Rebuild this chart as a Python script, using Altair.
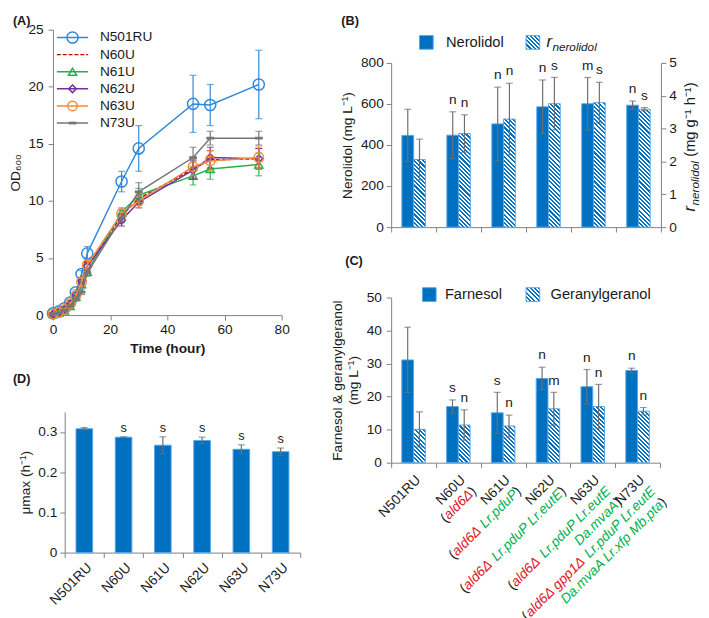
import math
import altair as alt
import pandas as pd

FONT = "Liberation Sans"
INK = "#1a1a1a"
AXC = "#808080"
BLUE = "#0070C0"
EDGE = "#5aa5e6"
ERRC = "#6f6f6f"
RED = "#e0151f"
GREEN = "#00b050"

# ---------------- data ----------------
strains = ["N501RU", "N60U", "N61U", "N62U", "N63U", "N73U"]

# (A) growth curves
time_h = [0, 2, 4, 6, 8, 10, 12, 24, 30, 49, 55, 72]
od_N501RU = [0.15, 0.3, 0.6, 1.1, 2.0, 3.6, 5.4, 11.7, 14.6, 18.5, 18.4, 20.2]
err_N501RU = [0.05, 0.1, 0.1, 0.15, 0.2, 0.3, 0.6, 0.9, 2.0, 2.5, 1.8, 3.0]
od_N60U = [0.1, 0.2, 0.45, 0.9, 1.7, 2.8, 4.2, 8.7, 10.2, 12.8, 13.6, 13.7]
err_N60U = [0.05, 0.05, 0.1, 0.1, 0.2, 0.3, 0.4, 0.5, 0.6, 0.8, 0.8, 0.9]
od_N61U = [0.1, 0.2, 0.4, 0.8, 1.6, 2.7, 3.8, 9.0, 10.5, 12.2, 12.8, 13.2]
err_N61U = [0.05, 0.05, 0.1, 0.1, 0.2, 0.3, 0.3, 0.4, 0.6, 0.8, 0.9, 1.0]
od_N62U = [0.1, 0.25, 0.5, 1.0, 1.8, 3.0, 4.3, 8.3, 9.9, 12.7, 13.8, 13.7]
err_N62U = [0.05, 0.05, 0.1, 0.1, 0.2, 0.3, 0.4, 0.5, 0.5, 0.8, 0.9, 0.9]
od_N63U = [0.1, 0.25, 0.5, 1.0, 1.7, 2.9, 4.4, 8.9, 10.0, 13.0, 13.5, 13.8]
err_N63U = [0.05, 0.05, 0.1, 0.1, 0.2, 0.3, 0.4, 0.4, 0.6, 0.8, 0.9, 1.0]
od_N73U = [0.1, 0.2, 0.4, 0.8, 1.4, 2.0, 3.7, 8.5, 10.8, 13.8, 15.5, 15.5]
err_N73U = [0.05, 0.05, 0.1, 0.1, 0.2, 0.2, 0.3, 0.4, 0.8, 0.9, 0.6, 0.6]
od_values = {"N501RU": od_N501RU, "N60U": od_N60U, "N61U": od_N61U,
             "N62U": od_N62U, "N63U": od_N63U, "N73U": od_N73U}
od_errors = {"N501RU": err_N501RU, "N60U": err_N60U, "N61U": err_N61U,
             "N62U": err_N62U, "N63U": err_N63U, "N73U": err_N73U}

# (B) nerolidol titre and specific rate
nerolidol = [447, 448, 503, 586, 601, 594]
nerolidol_err = [127, 114, 179, 131, 128, 20]
nerolidol_sig = ["", "n", "n", "n", "m", "n"]
r_nerolidol = [2.06, 2.85, 3.29, 3.76, 3.79, 3.59]
r_nerolidol_err = [0.62, 0.57, 1.09, 0.80, 0.62, 0.05]
r_nerolidol_sig = ["", "n", "n", "s", "s", "s"]

# (C) farnesol and geranylgeranol
farnesol = [31.1, 17.0, 15.1, 25.5, 23.0, 27.9]
farnesol_err = [9.9, 2.0, 6.2, 3.4, 5.2, 0.7]
farnesol_sig = ["", "s", "s", "n", "n", "n"]
geranylgeranol = [10.1, 11.4, 11.1, 16.3, 17.0, 15.6]
geranylgeranol_err = [5.3, 4.6, 3.3, 5.0, 6.7, 1.1]
geranylgeranol_sig = ["", "n", "n", "m", "n", "n"]

# (D) maximum specific growth rate
umax = [0.308, 0.287, 0.267, 0.279, 0.257, 0.251]
umax_err = [0.003, 0.001, 0.021, 0.008, 0.011, 0.009]
umax_sig = ["", "s", "s", "s", "s", "s"]

# genotype tick labels of (C): lines of (text, colour key, italic)
genotype_lines = {
    "N501RU": [[("N501RU", "k", False)]],
    "N60U": [[("N60U", "k", False)],
             [("(", "k", False), ("ald6Δ", "r", True), (")", "k", False)]],
    "N61U": [[("N61U", "k", False)],
             [("(", "k", False), ("ald6Δ", "r", True), (" Lr.pduP", "g", True), (")", "k", False)]],
    "N62U": [[("N62U", "k", False)],
             [("(", "k", False), ("ald6Δ", "r", True), (" Lr.pduP Lr.eutE", "g", True), (")", "k", False)]],
    "N63U": [[("N63U", "k", False)],
             [("(", "k", False), ("ald6Δ", "r", True), (" Lr.pduP Lr.eutE", "g", True)],
             [("Da.mvaA", "g", True), (")", "k", False)]],
    "N73U": [[("N73U", "k", False)],
             [("(", "k", False), ("ald6Δ gpp1Δ", "r", True), (" Lr.pduP Lr.eutE", "g", True)],
             [("Da.mvaA Lr.xfp Mb.pta", "g", True), (")", "k", False)]],
}
SEG_COLORS = {"k": INK, "r": RED, "g": GREEN}

# ---------------- helpers ----------------
ONE = pd.DataFrame({"k": [0]})
ARIAL = {' ': 278, '(': 333, ')': 333, '.': 278, 'Δ': 668, 'a': 556, 'b': 556, 'd': 556,
         'e': 556, 'g': 556, 'l': 222, 'm': 833, 'p': 556, 'r': 333, 't': 278, 'u': 556,
         'v': 500, 'x': 500, 'f': 278, 'i': 222, 'n': 556, 'o': 556, 's': 500, 'A': 667,
         'D': 722, 'E': 667, 'L': 556, 'M': 833, 'N': 722, 'P': 667, 'R': 722, 'U': 722}


def text_width(s, size):
    return sum(ARIAL.get(ch, 556) for ch in s) * size / 1000.0


def txt(x, y, s, size=14, color=INK, **kw):
    return alt.Chart(ONE).mark_text(font=FONT, fontSize=size, color=color, **kw).encode(
        x=alt.value(x), y=alt.value(y), text=alt.value(s))


def hatch_fill(w, h, period=3.0, frac=0.5):
    L = (w + h) / math.sqrt(2)
    p = period / L
    s = (w + h) / (w * w + h * h)
    stops = []
    o = 0.0
    while o < 1:
        o1 = min(o + frac * p, 1.0)
        o2 = min(o + p, 1.0)
        stops += [{"offset": round(o, 5), "color": BLUE},
                  {"offset": round(o1, 5), "color": BLUE},
                  {"offset": round(o1, 5), "color": "#ffffff"},
                  {"offset": round(o2, 5), "color": "#ffffff"}]
        o += p
    return {"gradient": "linear", "x1": 0, "y1": 1,
            "x2": round(s * w, 5), "y2": round(1 - s * h, 5), "stops": stops}


def panel_title(t, dx, offset):
    return alt.TitleParams(t, anchor="start", frame="group", font=FONT, fontSize=13,
                           fontWeight="bold", color=INK, dx=dx, offset=offset)


# ---------------- (A) ----------------
A_W, A_H = 234, 292
rowsA = []
for s in strains:
    for t, v, e in zip(time_h, od_values[s], od_errors[s]):
        rowsA.append({"strain": s, "t": t, "od": v, "lo": max(v - e, 0), "hi": v + e})
dfA = pd.DataFrame(rowsA)

DASH_SHAPE = "M-1,-0.35L1,-0.35L1,0.35L-1,0.35Z"
series_style = [
    ("N501RU", "#2f88d8", "circle", 130, None),
    ("N60U", "#c00000", None, 0, [4, 2]),
    ("N61U", "#22b14c", "triangle-up", 70, None),
    ("N62U", "#7030a0", "diamond", 60, None),
    ("N63U", "#f58a3c", "circle", 95, None),
    ("N73U", "#767676", DASH_SHAPE, 64, None),
]
xA_scale = alt.Scale(domain=[0, 80], nice=False)
yA_scale = alt.Scale(domain=[0, 25], nice=False)
xA_axis = alt.X("t:Q", scale=xA_scale,
                axis=alt.Axis(values=[0, 20, 40, 60, 80], title="Time (hour)",
                              titleFontWeight="bold", labelFlush=False, titlePadding=5,
                              labelOverlap=False))
yA_axis = alt.Y("od:Q", scale=yA_scale,
                axis=alt.Axis(values=[0, 5, 10, 15, 20, 25], title="OD₆₀₀", titlePadding=6,
                              labelPadding=5, labelOverlap=False))
xA = alt.X("t:Q", scale=xA_scale)


def yA(f):
    return alt.Y(f"{f}:Q", scale=yA_scale)


layersA = [alt.Chart(dfA).mark_point(opacity=0).encode(x=xA_axis, y=yA_axis)]
for name, col, shape, size, dash in series_style:
    base = alt.Chart(dfA).transform_filter(alt.datum.strain == name)
    lkw = dict(color=col, strokeWidth=1.5)
    if dash:
        lkw["strokeDash"] = dash
    layersA.append(base.mark_line(**lkw).encode(x=xA, y=yA("od")))
    layersA.append(base.mark_rule(color=col, strokeWidth=1.2).encode(x=xA, y=yA("lo"), y2="hi:Q"))
    for f in ("lo", "hi"):
        layersA.append(base.mark_tick(orient="horizontal", color=col, size=7, thickness=1.2)
                       .encode(x=xA, y=yA(f)))
    if shape:
        layersA.append(base.mark_point(shape=shape, size=size, color=col,
                                       filled=(shape == DASH_SHAPE), strokeWidth=1.5, opacity=1)
                       .encode(x=xA, y=yA("od")))
# legend of (A)
for i, (name, col, shape, size, dash) in enumerate(series_style):
    yc = 8 + i * 17.5
    rkw = dict(color=col, strokeWidth=1.5)
    if dash:
        rkw["strokeDash"] = dash
    layersA.append(alt.Chart(ONE).mark_rule(**rkw).encode(
        x=alt.value(4), x2=alt.value(36), y=alt.value(yc)))
    if shape:
        layersA.append(alt.Chart(ONE).mark_point(shape=shape, size=size, color=col,
                                                 filled=(shape == DASH_SHAPE), strokeWidth=1.5,
                                                 opacity=1)
                       .encode(x=alt.value(20), y=alt.value(yc)))
    layersA.append(txt(48, yc, name, size=14, align="left", baseline="middle"))

chartA = alt.layer(*layersA).properties(width=A_W, height=A_H,
                                        title=panel_title("(A)", -41, -5))

# ---------------- (D) ----------------
D_W, D_H = 241, 144
D_SHIFT = 12   # plot area of (D) sits 12 px right of (A)'s
dfD = pd.DataFrame({"strain": strains, "umax": umax,
                    "lo": [v - e for v, e in zip(umax, umax_err)],
                    "hi": [v + e for v, e in zip(umax, umax_err)],
                    "sig": umax_sig})
xD_scale = alt.Scale(domain=strains, paddingInner=0, paddingOuter=0,
                     range=[D_SHIFT, D_SHIFT + D_W])
xD_axis = alt.X("strain:N", scale=xD_scale,
                axis=alt.Axis(title=None, labelAngle=315, tickBand="extent", labelOverlap=False))
xD = alt.X("strain:N", scale=xD_scale)
yD_scale = alt.Scale(domain=[0, 0.35], nice=False)
baseD = alt.Chart(dfD)
layersD = [
    baseD.mark_bar(width=17, color=BLUE, stroke=EDGE, strokeWidth=1).encode(
        x=xD_axis,
        y=alt.Y("umax:Q", scale=yD_scale,
                axis=alt.Axis(values=[0, 0.05, 0.1, 0.15, 0.2, 0.25, 0.3, 0.35],
                              format=".2~f", title="μmax (h⁻¹)", titlePadding=6,
                              offset=-D_SHIFT, labelOverlap=False))),
    baseD.mark_rule(color=ERRC, strokeWidth=1.2).encode(
        x=xD, y=alt.Y("lo:Q", scale=yD_scale), y2="hi:Q"),
]
for f in ("lo", "hi"):
    layersD.append(baseD.mark_tick(orient="horizontal", color=ERRC, size=7, thickness=1.2)
                   .encode(x=xD, y=alt.Y(f"{f}:Q", scale=yD_scale)))
layersD.append(baseD.mark_text(font=FONT, fontSize=13, color=INK, baseline="bottom", dy=-2)
               .encode(x=xD, y=alt.Y("hi:Q", scale=yD_scale), text="sig:N"))
chartD = alt.layer(*layersD).properties(width=D_W + D_SHIFT, height=D_H,
                                        title=panel_title("(D)", -41, 27))


# ---------------- shared bits for (B) and (C) ----------------
def err_layers(df, xenc, yscale, lo, hi, xoff):
    out = [alt.Chart(df).mark_rule(color=ERRC, strokeWidth=1.2, xOffset=xoff).encode(
        x=xenc, y=alt.Y(f"{lo}:Q", scale=yscale), y2=f"{hi}:Q")]
    for f in (lo, hi):
        out.append(alt.Chart(df).mark_tick(orient="horizontal", color=ERRC, size=7,
                                           thickness=1.2, xOffset=xoff)
                   .encode(x=xenc, y=alt.Y(f"{f}:Q", scale=yscale)))
    return out


def sig_layer(df, xenc, yscale, hi, field, xoff):
    return alt.Chart(df).mark_text(font=FONT, fontSize=14, color=INK, baseline="bottom",
                                   dy=-5, xOffset=xoff).encode(
        x=xenc, y=alt.Y(f"{hi}:Q", scale=yscale), text=f"{field}:N")


def hatched_bars(df, xenc, yscale, field, vmax, plot_h, axis=None):
    out = []
    for i, s in enumerate(strains):
        v = df[field][i]
        h = max(v / vmax * plot_h, 1)
        if i == 0 and axis is not None:
            yenc = alt.Y(f"{field}:Q", scale=yscale, axis=axis)
        else:
            yenc = alt.Y(f"{field}:Q", scale=yscale)
        out.append(alt.Chart(df).transform_filter(alt.datum.strain == s)
                   .mark_bar(width=12, xOffset=6, fill=hatch_fill(12, h), stroke=EDGE,
                             strokeWidth=1)
                   .encode(x=xenc, y=yenc))
    return out


def legend_icon(x, y, solid):
    m = alt.Chart(ONE)
    if solid:
        mk = m.mark_rect(fill=BLUE, stroke=EDGE, strokeWidth=1)
    else:
        mk = m.mark_rect(fill=hatch_fill(14, 14), stroke=EDGE, strokeWidth=1)
    return mk.encode(x=alt.value(x), x2=alt.value(x + 14), y=alt.value(y), y2=alt.value(y + 14))


# ---------------- (B) ----------------
B_W, B_H = 276, 168
B_TOP = 34    # plot area of (B) starts 34 px below the top of (A)'s
dfB = pd.DataFrame({
    "strain": strains,
    "v1": nerolidol,
    "lo1": [v - e for v, e in zip(nerolidol, nerolidol_err)],
    "hi1": [v + e for v, e in zip(nerolidol, nerolidol_err)],
    "s1": nerolidol_sig,
    "v2": r_nerolidol,
    "lo2": [v - e for v, e in zip(r_nerolidol, r_nerolidol_err)],
    "hi2": [v + e for v, e in zip(r_nerolidol, r_nerolidol_err)],
    "s2": r_nerolidol_sig,
})
xB_scale = alt.Scale(domain=strains, paddingInner=0, paddingOuter=0)
xB_axis = alt.X("strain:N", scale=xB_scale,
                axis=alt.Axis(title=None, labels=False, tickBand="extent"))
xB = alt.X("strain:N", scale=xB_scale)
yB1 = alt.Scale(domain=[0, 800], nice=False, range=[B_TOP + B_H, B_TOP])
yB2 = alt.Scale(domain=[0, 5], nice=False, range=[B_TOP + B_H, B_TOP])

g1 = [alt.Chart(dfB).mark_bar(width=12, xOffset=-6, color=BLUE, stroke=EDGE, strokeWidth=1)
      .encode(x=xB_axis,
              y=alt.Y("v1:Q", scale=yB1,
                      axis=alt.Axis(values=[0, 200, 400, 600, 800], title="Nerolidol (mg L⁻¹)",
                                    titlePadding=6, labelOverlap=False)))]
g1 += err_layers(dfB, xB, yB1, "lo1", "hi1", -6)
g1.append(sig_layer(dfB, xB, yB1, "hi1", "s1", -6))

g2 = hatched_bars(dfB, xB, yB2, "v2", 5, B_H,
                  axis=alt.Axis(orient="right", values=[0, 1, 2, 3, 4, 5], title=None,
                                labelOverlap=False))
g2 += err_layers(dfB, xB, yB2, "lo2", "hi2", 6)
g2.append(sig_layer(dfB, xB, yB2, "hi2", "s2", 6))

extrasB = [
    legend_icon(29, B_TOP - 28, True),
    txt(56, B_TOP - 21, "Nerolidol", size=15, align="left", baseline="middle"),
    legend_icon(138, B_TOP - 28, False),
    txt(159, B_TOP - 16, "r", size=17, align="left", baseline="alphabetic", fontStyle="italic"),
    txt(165, B_TOP - 12, "nerolidol", size=12, align="left", baseline="alphabetic",
        fontStyle="italic"),
    # right axis title (rotated)
    txt(B_W + 35, B_TOP + 152, "r", size=17, align="left", baseline="alphabetic",
        fontStyle="italic", angle=270),
    txt(B_W + 35, B_TOP + 152, "nerolidol", size=12, align="left", baseline="alphabetic",
        fontStyle="italic", angle=270, dx=text_width("r", 17) + 0.5, dy=4),
    txt(B_W + 35, B_TOP + 152, "(mg g⁻¹ h⁻¹)", size=15, align="left", baseline="alphabetic",
        angle=270, dx=text_width("r", 17) + text_width("nerolidol", 12) + 5),
]
chartB = (alt.layer(alt.layer(*g1), alt.layer(*g2), *extrasB)
          .resolve_scale(y="independent")
          .properties(width=B_W, height=B_H + B_TOP, title=panel_title("(B)", -51, 2)))

# ---------------- (C) ----------------
C_W, C_H = 275, 169
dfC = pd.DataFrame({
    "strain": strains,
    "v1": farnesol,
    "lo1": [v - e for v, e in zip(farnesol, farnesol_err)],
    "hi1": [v + e for v, e in zip(farnesol, farnesol_err)],
    "s1": farnesol_sig,
    "v2": geranylgeranol,
    "lo2": [v - e for v, e in zip(geranylgeranol, geranylgeranol_err)],
    "hi2": [v + e for v, e in zip(geranylgeranol, geranylgeranol_err)],
    "s2": geranylgeranol_sig,
})
xC_scale = alt.Scale(domain=strains, paddingInner=0, paddingOuter=0)
xC_axis = alt.X("strain:N", scale=xC_scale,
                axis=alt.Axis(title=None, labels=False, tickBand="extent"))
xC = alt.X("strain:N", scale=xC_scale)
yC = alt.Scale(domain=[0, 50], nice=False)

layersC = [alt.Chart(dfC).mark_bar(width=12, xOffset=-6, color=BLUE, stroke=EDGE, strokeWidth=1)
           .encode(x=xC_axis,
                   y=alt.Y("v1:Q", scale=yC,
                           axis=alt.Axis(values=[0, 10, 20, 30, 40, 50], tickCount=6,
                                         title=["Farnesol & geranylgeranol", "(mg L⁻¹)"],
                                         titlePadding=6, labelOverlap=False,
                                         labelPadding=5)))]
layersC += hatched_bars(dfC, xC, yC, "v2", 50, C_H)
layersC += err_layers(dfC, xC, yC, "lo1", "hi1", -6)
layersC += err_layers(dfC, xC, yC, "lo2", "hi2", 6)
layersC.append(sig_layer(dfC, xC, yC, "hi1", "s1", -6))
layersC.append(sig_layer(dfC, xC, yC, "hi2", "s2", 6))
layersC += [
    legend_icon(32, -10, True),
    txt(55, -3, "Farnesol", size=15, align="left", baseline="middle"),
    legend_icon(138, -10, False),
    txt(163, -3, "Geranylgeranol", size=15, align="left", baseline="middle"),
]
LAB_SIZE = 14
LINE_H = 16
for s in strains:
    for j, line in enumerate(genotype_lines[s]):
        after = 0.0
        for seg, ck, ital in reversed(line):
            layersC.append(
                alt.Chart(pd.DataFrame({"strain": [s]}))
                .mark_text(angle=315, align="right", baseline="top", font=FONT,
                           fontSize=LAB_SIZE, fontStyle="italic" if ital else "normal",
                           color=SEG_COLORS[ck], dx=-after - 2, dy=j * LINE_H + 2)
                .encode(x=xC, y=alt.value(C_H + 8), text=alt.value(seg)))
            after += text_width(seg, LAB_SIZE)

chartC = alt.layer(*layersC).properties(width=C_W, height=C_H,
                                        title=panel_title("(C)", -47, 20))

# ---------------- assemble ----------------
left = alt.concat(chartA, chartD, columns=1, spacing=18)
right = alt.concat(chartB, chartC, columns=1, spacing=21)
chart = (alt.concat(left, right, columns=2, spacing=30, padding=0)
         .configure_view(stroke=None)
         .configure_axis(grid=False, domainColor=AXC, tickColor=AXC, labelFont=FONT,
                         titleFont=FONT, labelFontSize=14, titleFontSize=14,
                         titleFontWeight="normal", labelColor=INK, titleColor=INK,
                         tickSize=5, labelPadding=3, labelOverlap=False)
         .configure_text(font=FONT))

chart.save("out.html", embed_options={"renderer": "svg", "actions": False})
